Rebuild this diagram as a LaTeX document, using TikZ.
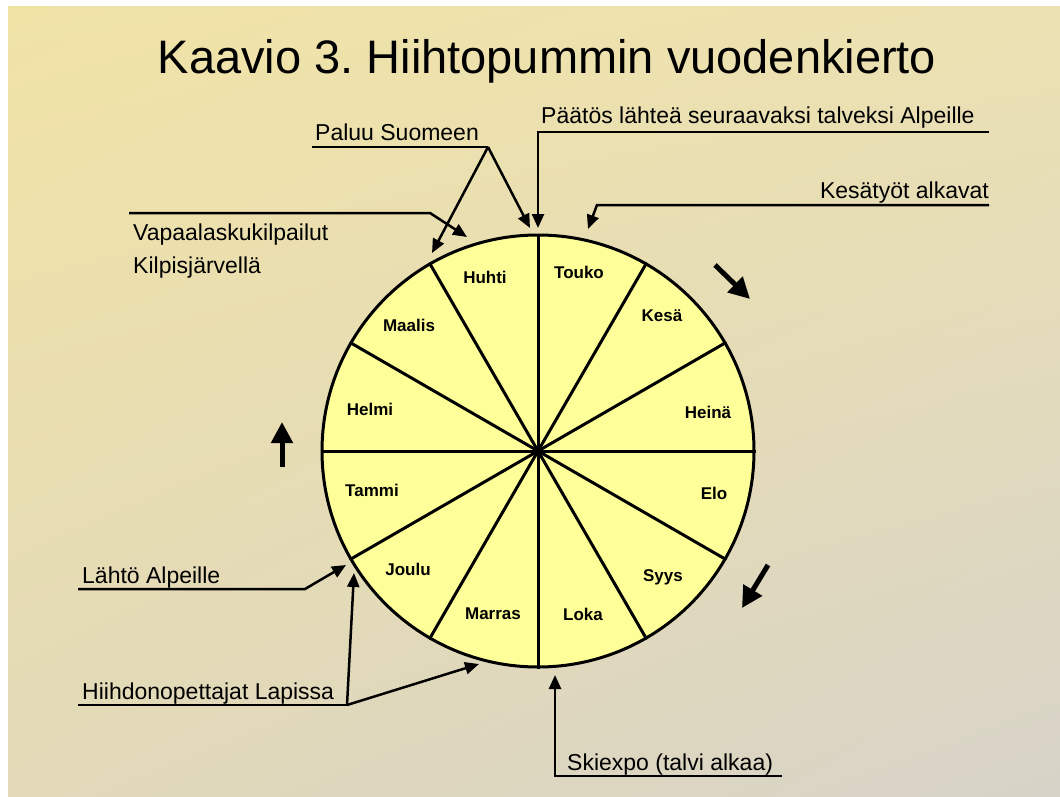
\documentclass[tikz,border=0pt]{standalone}
\usepackage{fontspec}
\setmainfont{Liberation Sans}
\usetikzlibrary{arrows.meta,shadings}
\frenchspacing

\definecolor{wheelfill}{RGB}{255,255,153}
\definecolor{bgul}{RGB}{241,227,166}
\definecolor{bgur}{RGB}{236,225,178}
\definecolor{bgll}{RGB}{226,217,184}
\definecolor{bglr}{RGB}{215,211,200}

\tikzset{
  label/.style={font=\fontsize{23}{28}\selectfont, anchor=base west, inner sep=0pt},
  month/.style={font=\fontsize{17}{20}\selectfont\bfseries},
  callout/.style={line width=2.7pt},
  pointer/.style={line width=2.5pt, -{Triangle[length=14pt,width=12pt]}},
  turn/.style={line width=5pt, -{Triangle[length=21pt,width=21pt]}}
}

\begin{document}
\begin{tikzpicture}[x=1pt,y=1pt]
\useasboundingbox (0,0) rectangle (1060,-797);
\fill[white] (0,0) rectangle (1060,-797);
\shade[upper left=bgul, upper right=bgur, lower left=bgll, lower right=bglr] (8,-7) rectangle (1060,-797);

% title
\node[font=\fontsize{47}{56}\selectfont, anchor=base, inner sep=0pt] (title) at (547,-74) {Kaavio 3. Hiihtopummin vuodenkierto};

% wheel of months
\node[circle, draw, line width=3pt, fill=wheelfill, minimum size=432pt, inner sep=0pt] (wheel) at (538,-451) {};
\foreach \a in {0,30,...,330}
  \draw[line width=3pt] (wheel.center) -- (wheel.\a);
\foreach \m/\x/\y [count=\i] in {Touko/579/272, Kesä/662/316, Heinä/708/412, Elo/714/493,
    Syys/663/577, Loka/583/614, Marras/493/614, Joulu/408/569,
    Tammi/372/490, Helmi/370/409, Maalis/409/325, Huhti/485/277}
  \node[month] (m\i) at (\x,-\y) {\m};

% labels
\node[label] (paluu) at (315,-141) {Paluu Suomeen};
\node[label] (vapaa) at (133,-240) {Vapaalaskukilpailut};
\node[label] (kilpis) at (133,-273) {Kilpisjärvellä};
\node[label] (paatos) at (541,-124) {Päätös lähteä seuraavaksi talveksi Alpeille};
\node[label, anchor=base east] (kesatyot) at (989,-198) {Kesätyöt alkavat};
\node[label] (lahto) at (82,-583) {Lähtö Alpeille};
\node[label] (opet) at (82,-699) {Hiihdonopettajat Lapissa};
\node[label] (skiexpo) at (567,-770) {Skiexpo (talvi alkaa)};

% callout lines
\coordinate (paluuL) at (312,-147);
\coordinate (paluuR) at (488,-147);
\coordinate (vapaaL) at (129,-213);
\coordinate (vapaaR) at (430,-213);
\coordinate (paatosR) at (989,-132);
\coordinate (paatosL) at (538,-132);
\coordinate (kesaR) at (989,-205);
\coordinate (kesaL) at (597,-205);
\coordinate (lahtoL) at (78,-589);
\coordinate (lahtoR) at (305,-589);
\coordinate (opetL) at (78,-705);
\coordinate (opetR) at (347,-705);
\coordinate (skiL) at (555,-776);
\coordinate (skiR) at (782,-776);

% targets round the wheel
\coordinate (t1) at (432,-253);
\coordinate (t2) at (530,-228);
\coordinate (t3) at (467,-237);
\coordinate (t4) at (538,-228);
\coordinate (t5) at (588,-229);
\coordinate (t6) at (346,-565);
\coordinate (t7) at (354,-573);
\coordinate (t8) at (479,-664);
\coordinate (t9) at (555,-675);

\draw[callout] (paluuL) -- (paluuR);
\draw[pointer] (paluuR) -- (t1);
\draw[pointer] (paluuR) -- (t2);
\draw[pointer] (vapaaL) -- (vapaaR) -- (t3);
\draw[pointer] (paatosR) -- (paatosL) -- (t4);
\draw[pointer] (kesaR) -- (kesaL) -- (t5);
\draw[pointer] (lahtoL) -- (lahtoR) -- (t6);
\draw[callout] (opetL) -- (opetR);
\draw[pointer] (opetR) -- (t7);
\draw[pointer] (opetR) -- (t8);
\draw[pointer] (skiR) -- (skiL) -- (t9);

% direction of the year
\coordinate (r1a) at (715,-265);
\coordinate (r1b) at (750,-299);
\coordinate (r2a) at (768,-565);
\coordinate (r2b) at (742,-608);
\coordinate (r3a) at (282,-467);
\coordinate (r3b) at (282,-422);
\draw[turn] (r1a) -- (r1b);
\draw[turn] (r2a) -- (r2b);
\draw[turn] (r3a) -- (r3b);

\end{tikzpicture}
\end{document}
